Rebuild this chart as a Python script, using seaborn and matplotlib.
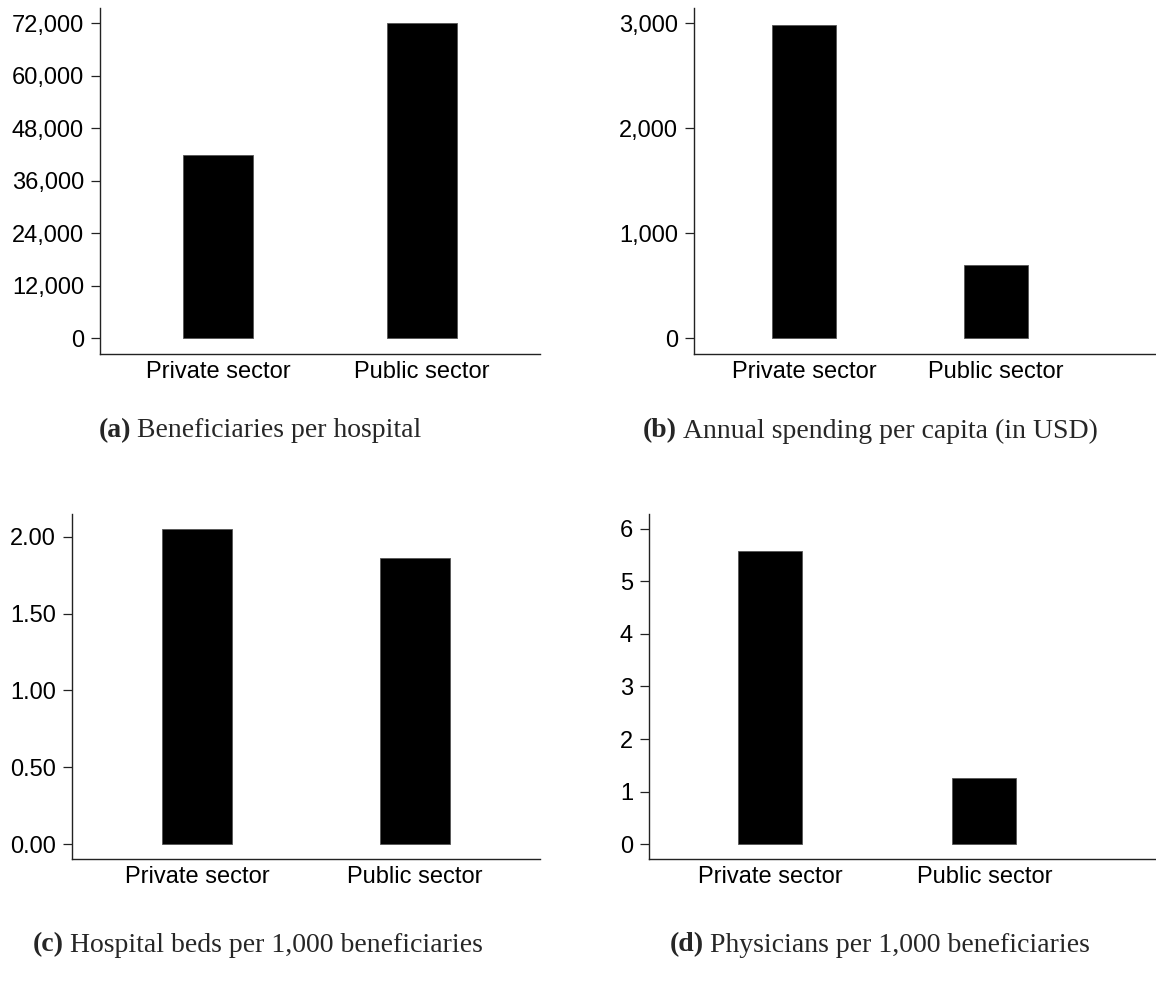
import matplotlib
matplotlib.use("Agg")
import matplotlib.pyplot as plt
import seaborn as sns
import pandas as pd
from matplotlib.ticker import FuncFormatter

sns.set_theme(style="ticks")
plt.rcParams["font.family"] = ["Liberation Sans", "DejaVu Sans"]

sectors = ["Private sector", "Public sector"]
beneficiaries_per_hospital = [41800, 71900]
spending_per_capita = [2980, 695]
beds_per_1000 = [2.05, 1.86]
physicians_per_1000 = [5.58, 1.26]

ticks_a = [0, 12000, 24000, 36000, 48000, 60000, 72000]
ticks_b = [0, 1000, 2000, 3000]
ticks_c = [0.0, 0.5, 1.0, 1.5, 2.0]
ticks_d = [0, 1, 2, 3, 4, 5, 6]

captions = [
    ("(a)", "Beneficiaries per hospital"),
    ("(b)", "Annual spending per capita (in USD)"),
    ("(c)", "Hospital beds per 1,000 beneficiaries"),
    ("(d)", "Physicians per 1,000 beneficiaries"),
]

W, H = 1156, 982
fig = plt.figure(figsize=(W / 100, H / 100), dpi=100)


def px_axes(left, top, right, bottom):
    return fig.add_axes([left / W, 1 - bottom / H, (right - left) / W, (bottom - top) / H])


# panel geometry in pixels: (left, top, right, bottom), x-limits, y-limits, bar width
panels = [
    dict(box=(100, 8, 540, 354), values=beneficiaries_per_hospital, ticks=ticks_a,
         ylim=(-3657, 75429), xlim=(-0.578, 1.578), width=0.343,
         fmt=lambda v, p: f"{v:,.0f}"),
    dict(box=(694, 8, 1156, 354), values=spending_per_capita, ticks=ticks_b,
         ylim=(-152, 3143), xlim=(-0.573, 1.833), width=0.333,
         fmt=lambda v, p: f"{v:,.0f}"),
    dict(box=(72, 514, 540, 859), values=beds_per_1000, ticks=ticks_c,
         ylim=(-0.0977, 2.1498), xlim=(-0.573, 1.573), width=0.32,
         fmt=lambda v, p: f"{v:.2f}"),
    dict(box=(649, 514, 1156, 859), values=physicians_per_1000, ticks=ticks_d,
         ylim=(-0.2857, 6.2857), xlim=(-0.564, 1.80), width=0.298,
         fmt=lambda v, p: f"{v:.0f}"),
]

for spec in panels:
    ax = px_axes(*spec["box"])
    df = pd.DataFrame({"sector": sectors, "value": spec["values"]})
    sns.barplot(data=df, x="sector", y="value", order=sectors, color="black",
                saturation=1, width=spec["width"], edgecolor="#555555",
                linewidth=0.6, ax=ax)
    ax.set_xlim(*spec["xlim"])
    ax.set_ylim(*spec["ylim"])
    ax.set_yticks(spec["ticks"])
    ax.yaxis.set_major_formatter(FuncFormatter(spec["fmt"]))
    ax.set_xlabel("")
    ax.set_ylabel("")
    for side in ("top", "right"):
        ax.spines[side].set_visible(False)
    for side in ("left", "bottom"):
        ax.spines[side].set_linewidth(1.0)
        ax.spines[side].set_color("#222222")
    ax.tick_params(axis="y", length=6.5, width=0.9, color="#222222", pad=5,
                   labelsize=17, labelcolor="black")
    ax.tick_params(axis="x", length=0, pad=5, labelsize=17, labelcolor="black")
    ax.set_facecolor("white")

# subfigure captions: bold label followed by regular text, centred under each column
caption_pos = [(260, 431), (870, 431), (258, 945), (880, 945)]
serif = ["Liberation Serif", "DejaVu Serif"]
fig.canvas.draw()
renderer = fig.canvas.get_renderer()
gap = 6
for (lab, txt), (cx, y) in zip(captions, caption_pos):
    t1 = fig.text(0, 1 - y / H, lab, fontsize=20, fontweight="bold",
                  family=serif, va="center", ha="left")
    t2 = fig.text(0, 1 - y / H, txt, fontsize=20, family=serif,
                  va="center", ha="left")
    w1 = t1.get_window_extent(renderer).width
    w2 = t2.get_window_extent(renderer).width
    x0 = cx - (w1 + gap + w2) / 2
    t1.set_x(x0 / W)
    t2.set_x((x0 + w1 + gap) / W)

fig.savefig("out.png", dpi=100, facecolor="white")
